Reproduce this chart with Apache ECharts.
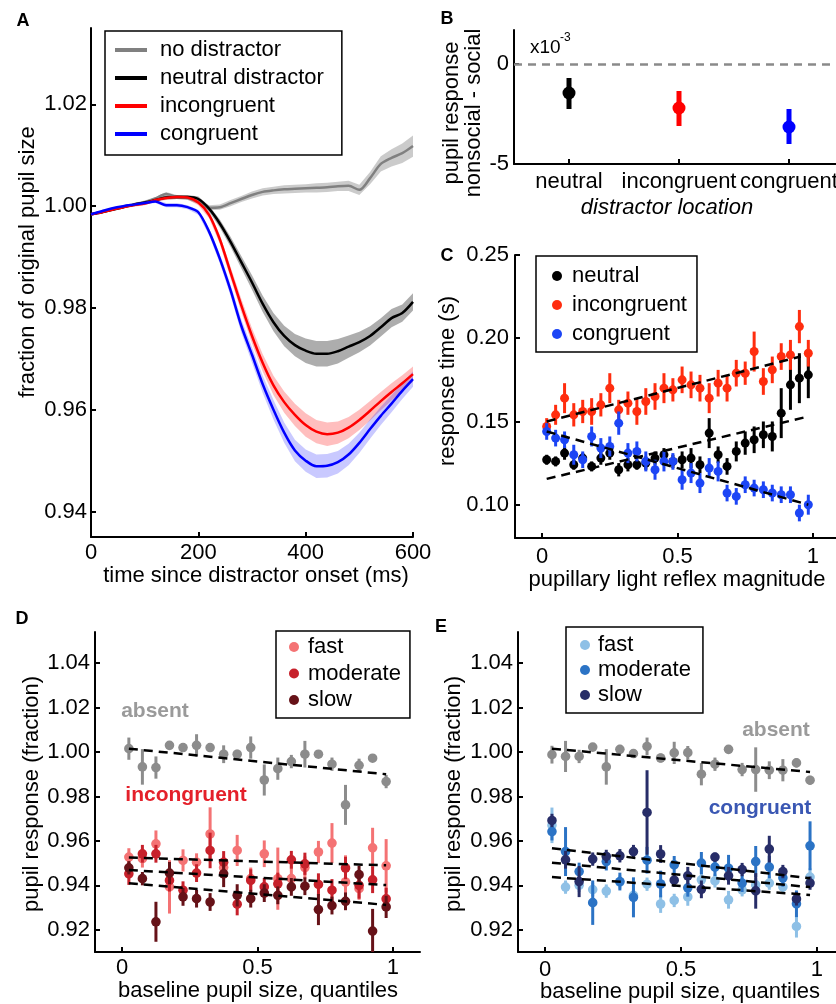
<!DOCTYPE html>
<html><head><meta charset="utf-8">
<script src="https://cdn.jsdelivr.net/npm/echarts@6/dist/echarts.min.js"></script>
<style>html,body{margin:0;padding:0;background:#fff}#c{width:836px;height:1004px}</style>
</head><body><div id="c"></div>
<script>
// ---------- Panel A: pupil time courses ----------
const timeMs = [0,20,40,60,80,100,120,140,160,180,200,220,240,260,280,300,320,340,360,380,400,420,440,460,480,500,520,540,560,580,600];
const noDist = [0.9984,0.9988,0.9994,0.9999,1.0003,1.0008,1.0015,1.0024,1.0018,1.0016,1.0008,0.9997,0.9998,1.0006,1.0014,1.0022,1.0028,1.0031,1.0033,1.0034,1.0035,1.0036,1.0037,1.0039,1.0040,1.0032,1.0055,1.0083,1.0095,1.0104,1.0118];
const neutralDist = [0.9984,0.9988,0.9993,0.9998,1.0003,1.0007,1.0012,1.0017,1.0018,1.0018,1.0014,0.9995,0.9966,0.9930,0.9890,0.9850,0.9808,0.9772,0.9745,0.9727,0.9716,0.9710,0.9710,0.9715,0.9724,0.9733,0.9745,0.9762,0.9780,0.9790,0.9812];
const incongA = [0.9984,0.9988,0.9993,0.9998,1.0002,1.0005,1.0012,1.0016,1.0018,1.0017,1.0007,0.9983,0.9935,0.9870,0.9805,0.9745,0.9692,0.9648,0.9615,0.9590,0.9570,0.9557,0.9552,0.9555,0.9565,0.9580,0.9598,0.9617,0.9635,0.9652,0.9670];
const congA = [0.9984,0.9990,0.9996,1.0000,1.0003,1.0006,1.0009,1.0002,1.0002,0.9998,0.9988,0.9950,0.9897,0.9835,0.9765,0.9708,0.9650,0.9600,0.9555,0.9520,0.9500,0.9489,0.9490,0.9497,0.9512,0.9535,0.9562,0.9588,0.9612,0.9637,0.9660];
const seNo = [0.0002,0.0002,0.0002,0.0002,0.0003,0.0003,0.0003,0.0004,0.0004,0.0004,0.0004,0.0005,0.0005,0.0006,0.0006,0.0007,0.0007,0.0007,0.0008,0.0008,0.0008,0.0009,0.0009,0.0009,0.0010,0.0010,0.0012,0.0015,0.0017,0.0019,0.0021];
const seNeu = [0.0002,0.0002,0.0002,0.0002,0.0003,0.0003,0.0003,0.0004,0.0004,0.0004,0.0005,0.0006,0.0008,0.0010,0.0012,0.0014,0.0016,0.0018,0.0020,0.0022,0.0024,0.0025,0.0025,0.0024,0.0022,0.0020,0.0019,0.0018,0.0018,0.0017,0.0017];
const seInc = [0.0002,0.0002,0.0002,0.0002,0.0003,0.0003,0.0003,0.0004,0.0004,0.0004,0.0005,0.0007,0.0009,0.0011,0.0013,0.0015,0.0017,0.0019,0.0021,0.0022,0.0023,0.0023,0.0023,0.0022,0.0021,0.0020,0.0019,0.0018,0.0017,0.0016,0.0015];
const seCon = [0.0002,0.0002,0.0002,0.0002,0.0003,0.0003,0.0003,0.0004,0.0004,0.0004,0.0005,0.0007,0.0009,0.0011,0.0013,0.0015,0.0017,0.0019,0.0020,0.0021,0.0022,0.0023,0.0023,0.0022,0.0021,0.0020,0.0019,0.0018,0.0017,0.0016,0.0015];
const aXTicks = [0,200,400,600];
const aYTicks = [0.94,0.96,0.98,1.00,1.02];

// ---------- Panel B ----------
const bCats = ['neutral','incongruent','congruent'];
const bMean = [-1.45,-2.2,-3.15];
const bLow = [-2.25,-3.1,-4.0];
const bHigh = [-0.7,-1.35,-2.25];
const bYTicks = [-5,0];

// ---------- Panel C ----------
const cX = [0.017,0.050,0.083,0.117,0.150,0.183,0.217,0.250,0.283,0.317,0.350,0.383,0.417,0.450,0.483,0.517,0.550,0.583,0.617,0.650,0.683,0.717,0.750,0.783,0.817,0.850,0.883,0.917,0.950,0.983];
const cNeutral = [0.127,0.126,0.131,0.124,0.128,0.123,0.128,0.131,0.121,0.124,0.124,0.125,0.128,0.130,0.126,0.127,0.128,0.124,0.143,0.130,0.123,0.132,0.137,0.139,0.142,0.141,0.155,0.172,0.176,0.178];
const cNeutralErr = [0.003,0.003,0.004,0.003,0.003,0.003,0.004,0.004,0.004,0.004,0.003,0.004,0.004,0.004,0.004,0.005,0.006,0.005,0.009,0.005,0.005,0.006,0.007,0.008,0.008,0.009,0.015,0.015,0.015,0.014];
const cIncong = [0.147,0.154,0.164,0.154,0.156,0.156,0.160,0.170,0.157,0.161,0.156,0.162,0.165,0.170,0.169,0.175,0.172,0.170,0.164,0.173,0.170,0.179,0.179,0.192,0.174,0.181,0.189,0.190,0.207,0.191];
const cIncongErr = [0.005,0.006,0.009,0.007,0.007,0.008,0.007,0.009,0.006,0.007,0.008,0.008,0.008,0.009,0.007,0.008,0.008,0.008,0.009,0.008,0.008,0.008,0.007,0.012,0.008,0.008,0.008,0.009,0.010,0.008];
const cCong = [0.144,0.140,0.139,0.130,0.127,0.141,0.134,0.135,0.149,0.131,0.132,0.126,0.121,0.126,0.126,0.115,0.119,0.113,0.122,0.120,0.107,0.105,0.112,0.110,0.109,0.107,0.106,0.106,0.095,0.100];
const cCongErr = [0.005,0.005,0.005,0.006,0.005,0.006,0.006,0.006,0.007,0.006,0.006,0.006,0.006,0.006,0.005,0.006,0.006,0.006,0.006,0.006,0.005,0.005,0.005,0.005,0.005,0.005,0.005,0.005,0.005,0.006];
const trendC_neutral = [[0.017,0.1155],[0.983,0.153]];
const trendC_incong = [[0.017,0.150],[0.955,0.189]];
const trendC_cong = [[0.017,0.144],[0.983,0.100]];
const cXTicks = [0,0.5,1];
const cYTicks = [0.10,0.15,0.20,0.25];

// ---------- Panels D & E ----------
const qX = [0.025,0.075,0.125,0.175,0.225,0.275,0.325,0.375,0.425,0.475,0.525,0.575,0.625,0.675,0.725,0.775,0.825,0.875,0.925,0.975];
const dAbsent = [1.0015,0.9933,0.9930,1.0030,1.0020,1.0030,1.0020,0.9990,0.9990,1.0020,0.9874,0.9925,0.9957,0.9990,0.9990,0.9945,0.9762,0.9940,0.9972,0.9867];
const dAbsentErr = [0.005,0.008,0.005,0.001,0.002,0.005,0.001,0.004,0.002,0.005,0.007,0.005,0.003,0.006,0.001,0.003,0.009,0.003,0.001,0.003];
const dFast = [0.9527,0.9520,0.9587,0.9393,0.9512,0.9504,0.9631,0.9480,0.9557,0.9430,0.9542,0.9430,0.9430,0.9480,0.9550,0.9590,0.9415,0.9385,0.9569,0.9488];
const dFastErr = [0.004,0.004,0.006,0.012,0.005,0.004,0.012,0.005,0.007,0.005,0.006,0.014,0.006,0.005,0.005,0.009,0.012,0.005,0.009,0.012];
const dModerate = [0.9452,0.9542,0.9542,0.9422,0.9378,0.9455,0.9557,0.9504,0.9315,0.9422,0.9393,0.9407,0.9515,0.9497,0.9404,0.9378,0.9478,0.9400,0.9425,0.9339];
const dModerateErr = [0.005,0.004,0.004,0.005,0.004,0.004,0.008,0.005,0.005,0.005,0.004,0.005,0.004,0.005,0.005,0.005,0.005,0.006,0.006,0.005];
const dSlow = [0.9479,0.9430,0.9236,0.9455,0.9348,0.9340,0.9325,0.9452,0.9355,0.9340,0.9365,0.9355,0.9393,0.9396,0.9291,0.9309,0.9328,0.9448,0.9194,0.9303];
const dSlowErr = [0.003,0.003,0.009,0.005,0.004,0.004,0.004,0.006,0.005,0.004,0.004,0.004,0.004,0.004,0.007,0.004,0.004,0.004,0.010,0.005];
const trendD_absent = [[0.025,1.0015],[0.975,0.990]];
const trendD_fast = [[0.025,0.9525],[0.975,0.949]];
const trendD_moderate = [[0.025,0.9469],[0.975,0.9401]];
const trendD_slow = [[0.025,0.9409],[0.975,0.9312]];

const eAbsent = [0.9988,0.9980,0.9980,1.0022,0.9933,1.0012,0.9993,1.0025,0.9973,0.9996,0.9997,0.9900,0.9945,1.0012,0.9921,0.9921,0.9918,0.9918,0.9951,0.9873];
const eAbsentErr = [0.004,0.007,0.003,0.001,0.008,0.002,0.001,0.004,0.002,0.005,0.003,0.005,0.003,0.001,0.003,0.010,0.004,0.005,0.002,0.002];
const eFast = [0.9670,0.9392,0.9400,0.9381,0.9374,0.9415,0.9355,0.9405,0.9316,0.9332,0.9348,0.9425,0.9420,0.9335,0.9380,0.9402,0.9410,0.9393,0.9215,0.9437];
const eFastErr = [0.008,0.003,0.003,0.003,0.003,0.003,0.003,0.003,0.004,0.003,0.004,0.005,0.003,0.004,0.003,0.003,0.003,0.003,0.005,0.004];
const eModerate = [0.9642,0.9552,0.9462,0.9322,0.9507,0.9417,0.9346,0.9513,0.9406,0.9492,0.9389,0.9500,0.9482,0.9477,0.9410,0.9507,0.9482,0.9434,0.9317,0.9578];
const eModerateErr = [0.004,0.011,0.004,0.010,0.004,0.004,0.009,0.006,0.006,0.004,0.004,0.005,0.004,0.006,0.004,0.007,0.005,0.004,0.006,0.011];
const eSlow = [0.9692,0.9515,0.9417,0.9518,0.9530,0.9533,0.9552,0.9728,0.9541,0.9423,0.9443,0.9382,0.9527,0.9443,0.9471,0.9375,0.9563,0.9462,0.9339,0.9410];
const eSlowErr = [0.003,0.004,0.007,0.003,0.003,0.003,0.003,0.019,0.004,0.003,0.004,0.004,0.002,0.004,0.003,0.008,0.006,0.003,0.003,0.003];
const trendE_absent = [[0.025,1.0015],[0.975,0.991]];
const trendE_slow = [[0.025,0.9567],[0.975,0.9432]];
const trendE_moderate = [[0.025,0.9502],[0.975,0.9392]];
const trendE_fast = [[0.025,0.9437],[0.975,0.9357]];
const qXTicks = [0,0.5,1];
const qYTicks = [0.92,0.94,0.96,0.98,1.00,1.02,1.04];

// ---------- helpers ----------
const FONT = '"Liberation Sans", Arial, Helvetica, sans-serif';
function axisCommon(ticks, margin, fmt) {
  const o = {
    axisLine:{show:true,onZero:false,lineStyle:{color:'#000',width:2}},
    axisTick:{show:true,inside:true,length:5,lineStyle:{color:'#000',width:2}},
    axisLabel:{show:true,color:'#000',fontSize:22,fontFamily:FONT,margin:margin},
    splitLine:{show:false}
  };
  if (ticks) { o.axisTick.customValues = ticks; o.axisLabel.customValues = ticks; }
  if (fmt) o.axisLabel.formatter = fmt;
  return o;
}
function valAxis(grid, min, max, ticks, margin, fmt) {
  return Object.assign({gridIndex:grid, type:'value', min:min, max:max}, axisCommon(ticks, margin, fmt));
}
const f2 = v => v.toFixed(2);

function bandSeries(key, mean, se, color) {
  return {type:'custom', name:'band_'+key, xAxisIndex:0, yAxisIndex:0, clip:true, silent:true,
    data:[[timeMs[0], mean[0]]],
    renderItem:(params, api)=>{
      const up = timeMs.map((t,i)=>api.coord([t, mean[i]+se[i]]));
      const lo = timeMs.map((t,i)=>api.coord([t, mean[i]-se[i]])).reverse();
      return {type:'polygon', shape:{points:up.concat(lo)}, style:{fill:color}};
    }};
}
function meanLine(name, mean, color) {
  return {type:'line', name:name, xAxisIndex:0, yAxisIndex:0, smooth:0.3, symbol:'none', silent:true,
    lineStyle:{color:color, width:2.5}, itemStyle:{color:color}, data: timeMs.map((t,i)=>[t, mean[i]])};
}
function errSeries(name, ax, xs, ys, es, color, r, lw) {
  return {type:'custom', name:name, xAxisIndex:ax, yAxisIndex:ax, clip:true, silent:true,
    itemStyle:{color:color},
    data: xs.map((x,i)=>[x, ys[i], es[i]]),
    renderItem:(params, api)=>{
      const x = api.value(0), y = api.value(1), e = api.value(2);
      const p = api.coord([x,y]), a = api.coord([x,y-e]), b = api.coord([x,y+e]);
      return {type:'group', children:[
        {type:'line', shape:{x1:a[0],y1:a[1],x2:b[0],y2:b[1]}, style:{stroke:color, lineWidth:lw}},
        {type:'circle', shape:{cx:p[0],cy:p[1],r:r}, style:{fill:color}}
      ]};
    }};
}
function trend(ax, pts) {
  return {type:'line', name:'trend', xAxisIndex:ax, yAxisIndex:ax, data:pts, symbol:'none', silent:true, z:3,
    lineStyle:{color:'#000', width:2.5, type:[9,6]}};
}
function T(text, x, y, o) {
  o = o || {};
  return {type:'text', x:x, y:y, rotation:o.rot||0, silent:true,
    style:{text:text, fontSize:o.size||22, fontFamily:FONT, fontWeight:o.weight||'normal', fontStyle:o.italic?'italic':'normal',
      fill:o.color||'#000', align:o.align||'center', verticalAlign:'middle'}};
}
const strip = n => n.split('|')[1];
const R90 = Math.PI/2;

// ---------- series ----------
const series = [];
series.push(bandSeries('no', noDist, seNo, 'rgba(140,140,140,0.45)'));
series.push(bandSeries('neu', neutralDist, seNeu, 'rgba(60,60,60,0.42)'));
series.push(bandSeries('inc', incongA, seInc, 'rgba(255,40,40,0.30)'));
series.push(bandSeries('con', congA, seCon, 'rgba(40,40,255,0.25)'));
series.push(meanLine('A|no distractor', noDist, '#808080'));
series.push(meanLine('A|neutral distractor', neutralDist, '#000000'));
series.push(meanLine('A|incongruent', incongA, '#ff0000'));
series.push(meanLine('A|congruent', congA, '#0000ff'));

const bColors = ['#000000','#ff0000','#0000ff'];
series.push({type:'custom', name:'B', xAxisIndex:1, yAxisIndex:1, silent:true,
  data: bCats.map((c,i)=>({value:[i, bMean[i], bLow[i], bHigh[i]], itemStyle:{color:bColors[i]}})),
  renderItem:(params, api)=>{
    const c = api.visual('color');
    const x = api.value(0);
    const p = api.coord([x, api.value(1)]), a = api.coord([x, api.value(2)]), b = api.coord([x, api.value(3)]);
    return {type:'group', children:[
      {type:'line', shape:{x1:a[0],y1:a[1],x2:b[0],y2:b[1]}, style:{stroke:c, lineWidth:5}},
      {type:'circle', shape:{cx:p[0],cy:p[1],r:6.5}, style:{fill:c}}
    ]};
  },
  markLine:{silent:true, symbol:['none','none'], label:{show:false}, animation:false,
    lineStyle:{color:'#8a8a8a', width:2.5, type:[8,6]}, data:[{yAxis:0}]}
});

series.push(errSeries('C|neutral', 2, cX, cNeutral, cNeutralErr, '#000000', 4.5, 3));
series.push(errSeries('C|incongruent', 2, cX, cIncong, cIncongErr, '#ff2d0f', 4.5, 3));
series.push(errSeries('C|congruent', 2, cX, cCong, cCongErr, '#1c45f5', 4.5, 3));
series.push(trend(2, trendC_incong), trend(2, trendC_neutral), trend(2, trendC_cong));

series.push(errSeries('D|absent', 3, qX, dAbsent, dAbsentErr, '#8c8c8c', 4.8, 3));
series.push(trend(3, trendD_absent));
series.push(errSeries('D|fast', 3, qX, dFast, dFastErr, '#f47374', 4.8, 3));
series.push(errSeries('D|moderate', 3, qX, dModerate, dModerateErr, '#c7212b', 4.8, 3));
series.push(errSeries('D|slow', 3, qX, dSlow, dSlowErr, '#661218', 4.8, 3));
series.push(trend(3, trendD_fast), trend(3, trendD_moderate), trend(3, trendD_slow));

series.push(errSeries('E|absent', 4, qX, eAbsent, eAbsentErr, '#8c8c8c', 4.8, 3));
series.push(trend(4, trendE_absent));
series.push(errSeries('E|fast', 4, qX, eFast, eFastErr, '#8ec0e6', 4.8, 3));
series.push(errSeries('E|moderate', 4, qX, eModerate, eModerateErr, '#2b73c5', 4.8, 3));
series.push(errSeries('E|slow', 4, qX, eSlow, eSlowErr, '#272d68', 4.8, 3));
series.push(trend(4, trendE_slow), trend(4, trendE_moderate), trend(4, trendE_fast));

const legendText = {fontSize:22, fontFamily:FONT, color:'#000'};
const bXAxis = Object.assign({gridIndex:1, type:'category', data:bCats}, axisCommon(null, 7));
bXAxis.axisTick = {show:true, inside:true, length:5, alignWithLabel:true, lineStyle:{color:'#000',width:2}};
bXAxis.axisLabel.interval = 0;
const G = (l,t,w,h) => ({left:l, top:t, width:w, height:h, outerBoundsMode:'none', containLabel:false});
const option = {
  animation:false,
  backgroundColor:'#ffffff',
  grid:[ G(91,28,322,509), G(514,30,330,134), G(515,255,325,283), G(95,632,325,320), G(518,632,326,320) ],
  xAxis:[
    valAxis(0, 0, 600, aXTicks, 5),
    bXAxis,
    valAxis(2, -0.1, 1.1, cXTicks, 8),
    valAxis(3, -0.1, 1.1, qXTicks, 5),
    valAxis(4, -0.1, 1.1, qXTicks, 7)
  ],
  yAxis:[
    valAxis(0, 0.935, 1.035, aYTicks, 4, f2),
    valAxis(1, -5, 1.7, bYTicks, 5, v => String(v)),
    valAxis(2, 0.08, 0.25, cYTicks, 6, f2),
    valAxis(3, 0.91, 1.054, qYTicks, 5, f2),
    valAxis(4, 0.91, 1.054, qYTicks, 5, f2)
  ],
  legend:[
    {left:105, top:31, orient:'vertical', selectedMode:false, formatter:strip, icon:'rect',
     data:['A|no distractor','A|neutral distractor','A|incongruent','A|congruent'],
     itemWidth:32, itemHeight:4, itemGap:6, padding:[8,18,10,10], borderColor:'#000', borderWidth:1.5,
     textStyle:Object.assign({padding:[0,0,0,8]}, legendText)},
    {left:536, top:256, orient:'vertical', selectedMode:false, formatter:strip, icon:'circle',
     data:['C|neutral','C|incongruent','C|congruent'],
     itemWidth:10, itemHeight:10, itemGap:7, padding:[9,10,7,16], borderColor:'#000', borderWidth:1.5,
     textStyle:Object.assign({padding:[0,0,0,5]}, legendText)},
    {left:276, top:631, orient:'vertical', selectedMode:false, formatter:strip, icon:'circle',
     data:['D|fast','D|moderate','D|slow'],
     itemWidth:10, itemHeight:10, itemGap:4.5, padding:[5,9,7,13], borderColor:'#000', borderWidth:1.5,
     textStyle:Object.assign({padding:[0,0,0,4]}, legendText)},
    {left:566, top:627, orient:'vertical', selectedMode:false, formatter:strip, icon:'circle',
     data:['E|fast','E|moderate','E|slow'],
     itemWidth:10, itemHeight:10, itemGap:3, padding:[7,12,7,14], borderColor:'#000', borderWidth:1.5,
     textStyle:Object.assign({padding:[0,0,0,3]}, legendText)}
  ],
  graphic:[
    T('A', 23, 21, {size:18, weight:'bold'}),
    T('fraction of original pupil size', 28, 262, {rot:R90}),
    T('time since distractor onset (ms)', 256, 576),
    T('B', 447, 19, {size:18, weight:'bold'}),
    T('pupil response', 452, 113, {rot:R90}),
    T('nonsocial - social', 474, 113, {rot:R90}),
    T('x10', 530, 48, {size:19, align:'left'}),
    T('-3', 560, 38, {size:12, align:'left'}),
    T('distractor location', 667, 208, {italic:true}),
    T('C', 447, 256, {size:18, weight:'bold'}),
    T('response time (s)', 448, 381, {rot:R90}),
    T('pupillary light reflex magnitude', 677, 580),
    T('D', 22, 619, {size:18, weight:'bold'}),
    T('pupil response (fraction)', 32, 794, {rot:R90}),
    T('baseline pupil size, quantiles', 258, 991),
    T('absent', 155, 711, {size:21, weight:'bold', color:'#9a9a9a'}),
    T('incongruent', 186, 795, {size:21, weight:'bold', color:'#e4202a'}),
    T('E', 441, 627, {size:18, weight:'bold'}),
    T('pupil response (fraction)', 454, 794, {rot:R90}),
    T('baseline pupil size, quantiles', 680, 992),
    T('absent', 776, 730, {size:21, weight:'bold', color:'#9a9a9a'}),
    T('congruent', 760, 808, {size:21, weight:'bold', color:'#3a57b3'})
  ],
  series:series
};
const chart = echarts.init(document.getElementById('c'), null, {renderer:'canvas', width:836, height:1004});
chart.setOption(option);
</script></body></html>
